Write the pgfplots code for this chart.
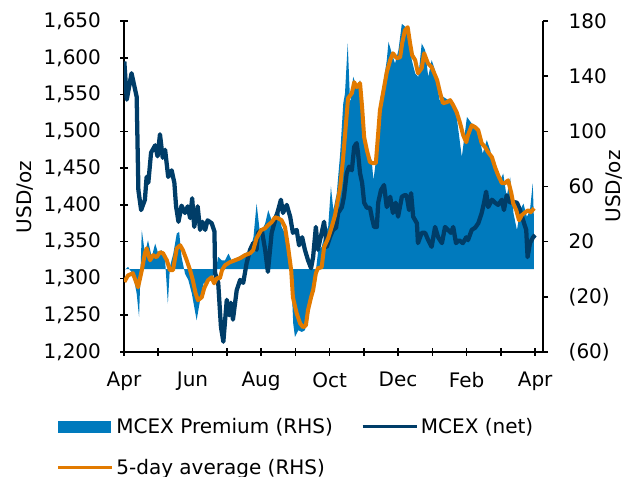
\documentclass[border=0pt]{standalone}
\usepackage{fontspec}
\setmainfont{DejaVu Sans}
\usepackage{pgfplots}
\pgfplotsset{compat=1.18}
\definecolor{premblue}{RGB}{0,122,189}
\definecolor{navy}{RGB}{0,61,104}
\definecolor{avgorange}{RGB}{226,122,0}

\pgfplotstableread{
m p
0.01 0
0.01 -0.7
0.12 1.7
0.18 -0.7
0.26 -3.1
0.37 -17.6
0.44 -34.6
0.48 -3
0.52 28.3
0.61 11.4
0.70 21.0
0.81 8.9
0.91 18.6
1.00 11.4
1.10 13.8
1.20 6.5
1.28 -24.9
1.34 1.7
1.44 11.4
1.54 25.9
1.61 27.1
1.68 8.9
1.78 -3.1
1.88 -8.0
1.98 -17.6
2.12 -37.0
2.22 -22.5
2.32 -10.4
2.46 -8.0
2.66 -3.1
2.75 8.9
2.85 6.5
2.95 6.5
3.05 11.4
3.14 6.5
3.34 8.9
3.53 11.4
3.68 13.8
3.78 23.4
3.87 47.6
3.97 25.9
4.12 33.1
4.21 42.8
4.31 35.5
4.41 40.4
4.51 45.2
4.60 30.7
4.70 25.9
4.80 13.8
4.88 -5.6
4.94 -39.4
4.99 -49.1
5.09 -44.2
5.19 -45.5
5.28 -44.2
5.38 -34.6
5.48 -20.1
5.58 -5.6
5.67 13.8
5.77 16.2
5.87 25.9
5.96 30.7
6.04 60.0
6.11 42.8
6.21 54.9
6.31 83.9
6.40 120.2
6.45 127.4
6.53 163.7
6.60 120.2
6.69 139.5
6.79 132.2
6.89 137.1
6.96 125.0
7.04 91.2
7.13 83.9
7.23 79.0
7.28 64.5
7.38 83.9
7.47 122.6
7.57 134.7
7.67 151.6
7.72 164.8
7.82 156.4
7.91 149.2
8.01 158.8
8.11 178.0
8.20 176.0
8.30 168.5
8.40 151.6
8.50 141.9
8.59 139.5
8.69 163.7
8.79 158.8
8.88 139.5
8.98 151.6
9.08 144.3
9.21 122.6
9.32 125.0
9.47 122.6
9.61 117.7
9.71 110.4
9.86 81.4
10.01 110.4
10.15 105.7
10.30 103.2
10.39 93.6
10.47 83.9
10.59 93.6
10.69 86.3
10.78 74.2
10.88 71.8
10.98 64.5
11.07 69.4
11.17 52.4
11.27 66.9
11.37 40.4
11.47 28.3
11.56 42.8
11.66 47.6
11.76 37.9
11.85 42.8
11.93 62.2
11.96 40.0
11.96 0
}\premium

\pgfplotstableread{
m v
0.01 1595
0.08 1543
0.22 1579
0.37 1547
0.42 1420
0.50 1393
0.61 1407
0.66 1438
0.71 1430
0.79 1471
0.91 1481
0.98 1466
1.05 1496
1.13 1464
1.20 1475
1.29 1438
1.39 1447
1.47 1430
1.52 1398
1.59 1377
1.68 1399
1.78 1389
1.86 1398
1.93 1382
1.99 1409
2.05 1370
2.15 1398
2.22 1366
2.29 1377
2.37 1366
2.44 1379
2.56 1375
2.64 1364
2.66 1307
2.75 1294
2.83 1234
2.90 1214
3.00 1271
3.07 1250
3.12 1267
3.18 1244
3.29 1284
3.39 1298
3.48 1294
3.58 1321
3.68 1339
3.77 1348
3.87 1339
3.91 1362
4.02 1366
4.12 1339
4.20 1309
4.31 1362
4.41 1379
4.50 1393
4.58 1407
4.64 1389
4.75 1400
4.85 1384
4.93 1362
5.04 1366
5.11 1345
5.20 1356
5.28 1339
5.37 1325
5.46 1314
5.52 1329
5.60 1370
5.66 1339
5.77 1362
5.84 1377
5.92 1343
6.01 1356
6.10 1366
6.19 1369
6.25 1389
6.36 1397
6.42 1411
6.50 1443
6.57 1452
6.65 1447
6.72 1479
6.79 1484
6.83 1471
6.89 1443
6.95 1430
7.01 1403
7.09 1396
7.18 1396
7.23 1384
7.30 1370
7.38 1370
7.42 1403
7.50 1420
7.59 1427
7.67 1397
7.77 1411
7.85 1389
7.93 1403
8.00 1384
8.11 1411
8.18 1413
8.25 1413
8.32 1393
8.38 1416
8.44 1384
8.55 1375
8.58 1348
8.69 1362
8.79 1362
8.88 1352
8.98 1343
9.08 1370
9.17 1356
9.28 1348
9.37 1370
9.46 1366
9.54 1362
9.61 1370
9.69 1348
9.78 1352
9.89 1348
9.99 1356
10.04 1352
10.15 1366
10.25 1369
10.34 1375
10.44 1389
10.51 1403
10.57 1418
10.63 1397
10.74 1407
10.83 1403
10.92 1400
11.03 1407
11.09 1393
11.17 1413
11.27 1403
11.36 1404
11.47 1403
11.56 1393
11.65 1379
11.74 1366
11.78 1329
11.85 1348
11.94 1356
12.00 1359
}\mcex

\pgfplotstableread{
m a
0.01 -9.2
0.12 -4.4
0.26 -2.9
0.41 -13.1
0.52 -0.7
0.61 11.6
0.66 15.2
0.76 6.5
0.85 10.2
0.95 8.7
1.05 12.3
1.14 11.6
1.25 6.5
1.34 -0.7
1.43 -0.7
1.54 15.2
1.64 17.4
1.72 13.8
1.83 6.5
1.93 -0.7
2.01 -8.0
2.09 -17.4
2.16 -22.5
2.27 -20.3
2.34 -13.8
2.45 -8.0
2.56 -5.8
2.63 -10.2
2.71 -6.5
2.80 -6.5
2.86 -0.7
2.95 2.9
3.09 5.1
3.24 6.5
3.39 8.0
3.53 10.2
3.68 11.6
3.77 13.8
3.87 22.5
4.00 28.3
4.12 29.7
4.20 31.9
4.31 34.1
4.41 37.7
4.50 37.0
4.60 35.5
4.70 30.5
4.79 16.0
4.88 -0.7
4.93 -20.3
5.04 -31.9
5.14 -39.2
5.23 -42.1
5.31 -40.6
5.37 -29.7
5.46 -20.3
5.52 -15.2
5.60 -2.9
5.66 0.7
5.77 1.5
5.84 16.0
5.96 22.5
6.06 30.5
6.16 39.2
6.31 59.5
6.39 79.0
6.47 103.0
6.54 124.0
6.65 127.6
6.72 135.6
6.79 132.0
6.89 134.9
6.95 117.5
7.01 95.7
7.09 86.3
7.18 77.6
7.27 76.9
7.35 76.9
7.41 95.7
7.47 115.3
7.56 127.6
7.67 142.9
7.77 151.6
7.85 156.6
7.96 153.0
8.06 153.7
8.12 163.9
8.20 173.3
8.28 175.5
8.35 163.9
8.41 155.2
8.50 151.6
8.58 142.1
8.69 145.8
8.76 156.6
8.87 149.4
8.98 146.5
9.08 140.7
9.14 137.1
9.23 127.6
9.31 120.4
9.42 121.1
9.52 122.6
9.61 118.9
9.71 113.9
9.81 105.9
9.90 97.2
9.99 92.1
10.04 97.2
10.15 104.4
10.25 103.0
10.34 100.8
10.44 91.4
10.54 88.5
10.63 84.8
10.74 81.2
10.83 74.0
10.92 68.2
11.03 62.4
11.12 62.4
11.21 64.5
11.30 55.8
11.36 47.9
11.45 42.8
11.53 35.5
11.61 39.2
11.71 41.3
11.80 42.8
11.87 41.3
11.97 44.2
}\avg

\pgfplotsset{
  base/.style={
    width=314.25pt, height=248.25pt, scale only axis,
    at={(0pt,0pt)}, anchor=south west,
    xmin=0, xmax=12.23,
    tick align=outside,
    tick style={line width=1.2pt, black},
  },
  noarrows/.style={
    axis line style={-, line width=1.2pt, black},
    every outer x axis line/.append style={-},
    every outer y axis line/.append style={-},
    every inner x axis line/.append style={-},
    every inner y axis line/.append style={-},
  },
}

\begin{document}
\begin{tikzpicture}[font=\fontsize{15}{18}\selectfont]
\path[use as bounding box] (-93pt,-93.75pt) rectangle (387.75pt,264pt);

% RHS axis with the premium area
\begin{axis}[base,
  ymin=-60, ymax=180,
  axis x line=none, axis y line*=right, noarrows,
  xtick=\empty,
  ytick={-60,-20,20,60,100,140,180},
  yticklabels={(60),(20),20,60,100,140,180},
  major tick length=3.75pt,
  yticklabel style={xshift=12pt},
  ylabel={USD/oz},
  ylabel style={at={(axis description cs:1.169,0.5)}, anchor=center, rotate=0},
]
\addplot[fill=premblue, draw=none] table[x=m, y=p] {\premium} \closedcycle;
\end{axis}

% LHS axis with MCEX
\begin{axis}[base,
  ymin=1200, ymax=1650,
  axis x line=bottom, axis y line=left, noarrows,
  xtick={0,1,...,12},
  xticklabels={Apr,,Jun,,Aug,,Oct,,Dec,,Feb,,Apr},
  xticklabel style={yshift=-9pt},
  ytick={1200,1250,...,1650},
  yticklabels={{1,200},{1,250},{1,300},{1,350},{1,400},{1,450},{1,500},{1,550},{1,600},{1,650}},
  major tick length=5.5pt,
  yticklabel style={xshift=-11pt},
  ylabel={USD/oz},
  ylabel style={at={(axis description cs:-0.236,0.468)}, anchor=center},
]
\addplot[navy, line width=3.2pt, line join=round] table[x=m, y=v] {\mcex};
\end{axis}

% RHS axis with the 5-day average and the legend
\begin{axis}[base,
  ymin=-60, ymax=180,
  hide axis,
  legend image code/.code={\draw[#1, line width=2.5pt] (0pt,0pt) -- (40.5pt,0pt);},
  legend columns=2,
  legend cell align=left,
  legend style={draw=none, fill=none, inner sep=0pt,
    at={(axis description cs:-0.162,-0.19)}, anchor=north west,
    font=\fontsize{15}{18}\selectfont,
    row sep=14pt,
    /tikz/every even column/.append style={column sep=19pt}},
]
\addlegendimage{legend image code/.code={\fill[premblue] (0pt,-4.1pt) rectangle (39pt,4.1pt);}}
\addlegendentry{MCEX Premium (RHS)}
\addlegendimage{navy, line width=2.5pt}
\addlegendentry{MCEX (net)}
\addplot[avgorange, line width=3pt, line join=round] table[x=m, y=a] {\avg};
\addlegendentry{5-day average (RHS)}
\end{axis}
\end{tikzpicture}
\end{document}
